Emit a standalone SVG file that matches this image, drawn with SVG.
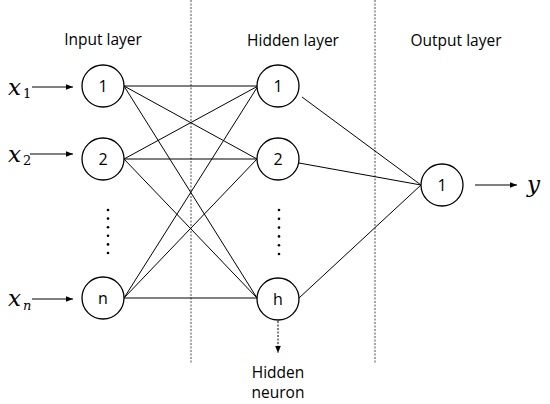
<svg xmlns="http://www.w3.org/2000/svg" width="550" height="404" viewBox="0 0 550 404">
<defs>
<marker id="ah" viewBox="0 0 10 10" refX="10" refY="5" markerWidth="7" markerHeight="7" markerUnits="userSpaceOnUse" orient="auto">
<path d="M0,1 L10,5 L0,9 Z" fill="#000"/>
</marker>
<style>
.n{fill:#fff;stroke:#000;stroke-width:1.3}
.lbl{font-family:"Open Sans","Liberation Sans",sans-serif;font-size:16px;fill:#000;text-anchor:middle}
.ttl{font-family:"Open Sans","Liberation Sans",sans-serif;font-size:15.5px;fill:#000;text-anchor:middle}
.m{font-family:"DejaVu Serif","Liberation Serif",serif;font-style:italic;font-size:23px;fill:#000}
.sub{font-family:"DejaVu Serif","Liberation Serif",serif;font-size:13px;fill:#000}
.e{stroke:#000;stroke-width:1;fill:none}
.a{stroke:#000;stroke-width:1;fill:none;marker-end:url(#ah)}
.sep{stroke:#888;stroke-width:1.5;stroke-dasharray:2,1.5}
.dot{fill:#000}
</style>
</defs>
<rect width="550" height="404" fill="#fff"/>
<g id="separators">
<line class="sep" x1="191" y1="0" x2="191" y2="363"/>
<line class="sep" x1="375" y1="0" x2="375" y2="363"/>
</g>
<g id="titles">
<text class="ttl" x="103" y="45">Input layer</text>
<text class="ttl" x="293" y="46">Hidden layer</text>
<text class="ttl" x="456" y="46">Output layer</text>
</g>
<g id="connectors">
<line class="e" x1="124" y1="86" x2="258" y2="86"/>
<line class="e" x1="124" y1="86" x2="257" y2="159"/>
<line class="e" x1="124" y1="86" x2="257" y2="298"/>
<line class="e" x1="124" y1="159" x2="258" y2="86"/>
<line class="e" x1="124" y1="159" x2="257" y2="159"/>
<line class="e" x1="124" y1="159" x2="257" y2="298"/>
<line class="e" x1="124" y1="298" x2="258" y2="86"/>
<line class="e" x1="124" y1="298" x2="257" y2="159"/>
<line class="e" x1="124" y1="298" x2="257" y2="298"/>
<line class="e" x1="302" y1="97" x2="421" y2="185"/>
<line class="e" x1="299" y1="163" x2="421" y2="185"/>
<line class="e" x1="299" y1="298" x2="421" y2="185"/>
<line class="a" x1="32" y1="87" x2="73" y2="87"/>
<line class="a" x1="30" y1="154" x2="73" y2="154"/>
<line class="a" x1="32" y1="299" x2="73" y2="299"/>
<line class="a" x1="475" y1="185" x2="517" y2="185"/>
<line class="a" x1="278" y1="321" x2="278" y2="353" stroke-dasharray="2,1.5"/>
</g>
<g id="inputs">
<text class="m" x="8" y="95">x</text><text class="sub" x="23" y="98">1</text>
<text class="m" x="8" y="162">x</text><text class="sub" x="23" y="165">2</text>
<text class="m" x="8" y="306">x</text><text class="sub" x="23" y="310" font-style="italic">n</text>
</g>
<g id="in1"><circle class="n" cx="103" cy="86" r="21"/><text class="lbl" x="103" y="92">1</text></g>
<g id="in2"><circle class="n" cx="103" cy="159" r="21"/><text class="lbl" x="103" y="165">2</text></g>
<g id="inn"><circle class="n" cx="103" cy="298" r="21"/><text class="lbl" x="103" y="304">n</text></g>
<g id="in-dots">
<circle class="dot" cx="108" cy="210" r="1.3"/><circle class="dot" cx="108" cy="218.6" r="1.3"/><circle class="dot" cx="108" cy="227.2" r="1.3"/><circle class="dot" cx="108" cy="235.8" r="1.3"/><circle class="dot" cx="108" cy="244.4" r="1.3"/><circle class="dot" cx="108" cy="253" r="1.3"/>
</g>
<g id="h1"><circle class="n" cx="278" cy="86" r="21"/><text class="lbl" x="278" y="92">1</text></g>
<g id="h2"><circle class="n" cx="278" cy="159" r="21"/><text class="lbl" x="278" y="165">2</text></g>
<g id="hh"><circle class="n" cx="278" cy="299" r="21"/><text class="lbl" x="278" y="305">h</text></g>
<g id="h-dots">
<circle class="dot" cx="279" cy="210" r="1.3"/><circle class="dot" cx="279" cy="218.8" r="1.3"/><circle class="dot" cx="279" cy="227.6" r="1.3"/><circle class="dot" cx="279" cy="236.4" r="1.3"/><circle class="dot" cx="279" cy="245.2" r="1.3"/><circle class="dot" cx="279" cy="254" r="1.3"/>
</g>
<g id="out1"><circle class="n" cx="442" cy="185" r="21"/><text class="lbl" x="442" y="191">1</text></g>
<g id="output-label"><text class="m" x="527" y="192">y</text></g>
<g id="hidden-neuron-label">
<text class="ttl" x="278" y="378">Hidden</text>
<text class="ttl" x="278" y="398">neuron</text>
</g>
</svg>
